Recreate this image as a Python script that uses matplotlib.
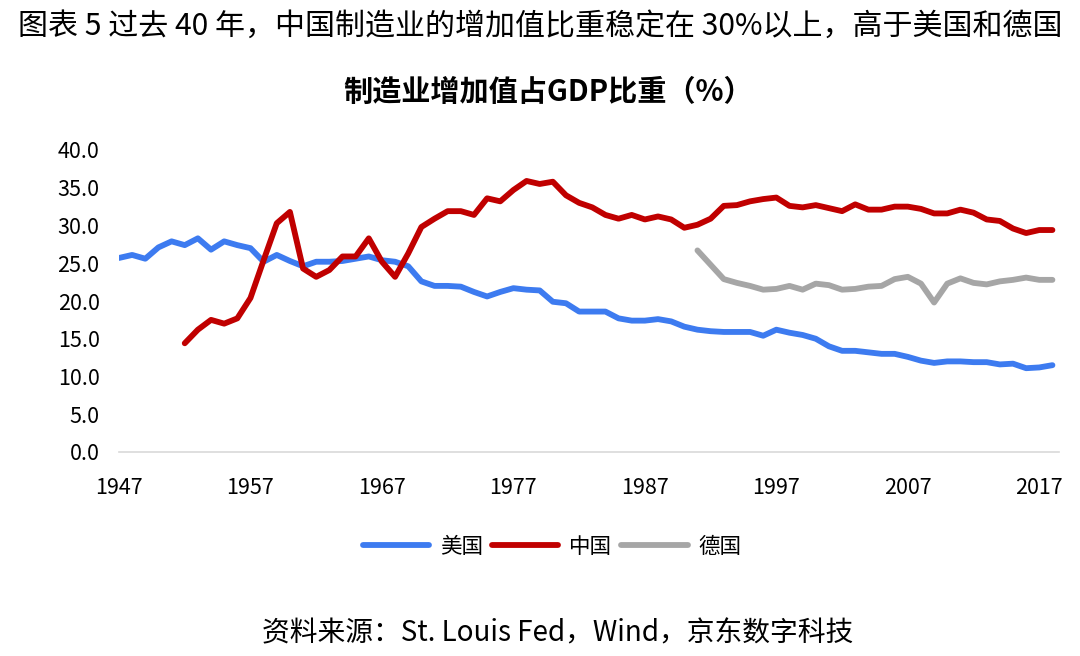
import matplotlib
matplotlib.use("Agg")
import matplotlib.pyplot as plt
from matplotlib.ticker import FixedLocator

plt.rcParams["font.family"] = ["Noto Sans CJK SC", "DejaVu Sans"]

years = list(range(1947, 2019))

# 美国 1947-2018
us = [25.7, 26.1, 25.6, 27.1, 27.9, 27.4, 28.3, 26.8, 27.9, 27.4,
      27.0, 25.2, 26.1, 25.3, 24.6, 25.2, 25.2, 25.3, 25.6, 25.9,
      25.4, 25.2, 24.6, 22.6, 22.0, 22.0, 21.9, 21.2, 20.6, 21.2,
      21.7, 21.5, 21.4, 19.9, 19.7, 18.6, 18.6, 18.6, 17.7, 17.4,
      17.4, 17.6, 17.3, 16.6, 16.2, 16.0, 15.9, 15.9, 15.9, 15.4,
      16.2, 15.8, 15.5, 15.0, 14.0, 13.4, 13.4, 13.2, 13.0, 13.0,
      12.6, 12.1, 11.8, 12.0, 12.0, 11.9, 11.9, 11.6, 11.7, 11.1,
      11.2, 11.5]

# 中国 1952-2018
cn_years = list(range(1952, 2019))
cn = [14.4, 16.2, 17.5, 17.0, 17.7, 20.4, 25.4, 30.3, 31.8, 24.3,
      23.2, 24.1, 25.9, 25.9, 28.3, 25.2, 23.2, 26.3, 29.8, 30.9,
      31.9, 31.9, 31.4, 33.6, 33.2, 34.7, 35.9, 35.5, 35.8, 34.0,
      33.0, 32.4, 31.4, 30.9, 31.4, 30.8, 31.2, 30.8, 29.7, 30.1,
      30.9, 32.6, 32.7, 33.2, 33.5, 33.7, 32.6, 32.4, 32.7, 32.3,
      31.9, 32.8, 32.1, 32.1, 32.5, 32.5, 32.2, 31.6, 31.6, 32.1,
      31.7, 30.8, 30.6, 29.6, 29.0, 29.4, 29.4]

# 德国 1991-2018
de_years = list(range(1991, 2019))
de = [26.7, 24.8, 22.9, 22.4, 22.0, 21.5, 21.6, 22.0, 21.5, 22.3,
      22.1, 21.5, 21.6, 21.9, 22.0, 22.9, 23.2, 22.3, 19.8, 22.3,
      23.0, 22.4, 22.2, 22.6, 22.8, 23.1, 22.8, 22.8]

xticks = [1947, 1957, 1967, 1977, 1987, 1997, 2007, 2017]
yticks = [0, 5, 10, 15, 20, 25, 30, 35, 40]

fig = plt.figure(figsize=(10.8, 6.56), dpi=100)
ax = fig.add_axes([119 / 1080, 204 / 656, 940 / 1080, 302 / 656])

ax.plot(years, us, color="#3d7bf0", lw=4.2, label="美国", solid_capstyle="round")
ax.plot(cn_years, cn, color="#c00000", lw=4.2, label="中国", solid_capstyle="round")
ax.plot(de_years, de, color="#a6a6a6", lw=4.2, label="德国", solid_capstyle="round")

ax.set_xlim(1947, 2018.5)
ax.set_ylim(0, 40)
ax.xaxis.set_major_locator(FixedLocator(xticks))
ax.yaxis.set_major_locator(FixedLocator(yticks))
ax.set_yticklabels([f"{v:.1f}" for v in yticks])
ax.tick_params(axis="both", length=0, labelsize=15.5, colors="#000000")
ax.tick_params(axis="y", pad=14)
ax.tick_params(axis="x", pad=18)
for side in ["top", "right", "left"]:
    ax.spines[side].set_visible(False)
ax.spines["bottom"].set_color("#d9d9d9")
ax.spines["bottom"].set_linewidth(1.2)

ax.legend(loc="center", bbox_to_anchor=(552 / 1080, 1 - 547 / 656),
          bbox_transform=fig.transFigure, ncol=3, frameon=False,
          fontsize=15.5, handlelength=3.1, handletextpad=0.5,
          columnspacing=0.4)

fig.text(540 / 1080, 1 - 26 / 656,
         "图表 5 过去 40 年，中国制造业的增加值比重稳定在 30%以上，高于美国和德国",
         ha="center", va="center", fontsize=21.6)
fig.text(548 / 1080, 1 - 92 / 656, "制造业增加值占GDP比重（%）",
         ha="center", va="center", fontsize=21, fontweight="bold")
fig.text(558 / 1080, 1 - 633 / 656, "资料来源：St. Louis Fed，Wind，京东数字科技",
         ha="center", va="center", fontsize=20)

fig.savefig("out.png", dpi=100)
